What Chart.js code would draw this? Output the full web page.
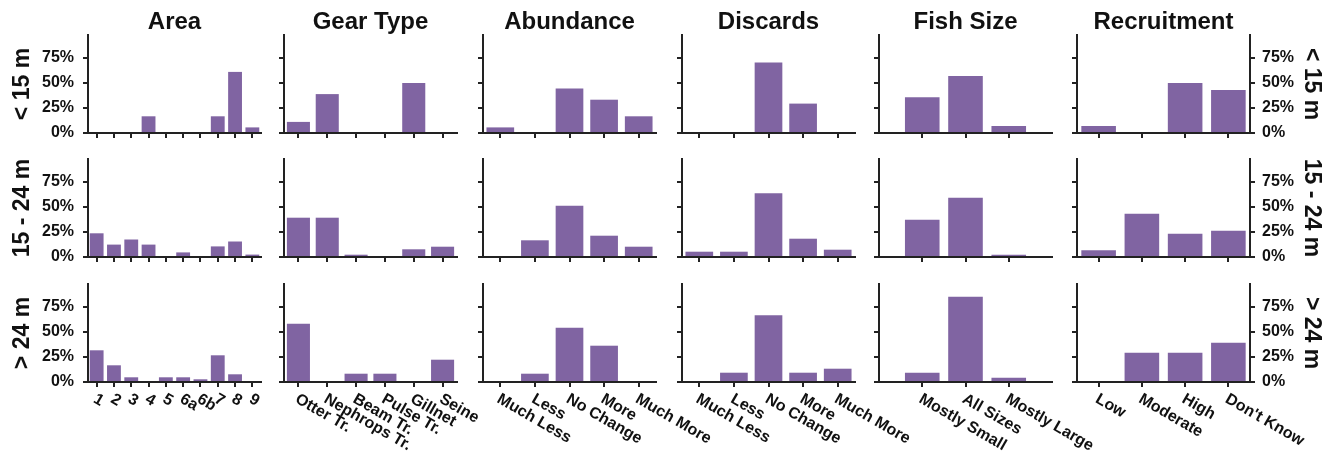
<!DOCTYPE html>
<html lang="en">
<head>
<meta charset="UTF-8">
<title>Survey responses by vessel length</title>
<script src="https://cdn.jsdelivr.net/npm/chart.js@4.4.0/dist/chart.umd.min.js"></script>
<style>
  body { margin: 0; background: #fff; overflow: hidden; font-family: "Liberation Sans", Arial, sans-serif; }
  #wrap { position: relative; width: 1341px; height: 452px; overflow: hidden; }
  .panel { position: absolute; }
  .title { position: absolute; width: 220px; text-align: center; font-weight: bold; font-size: 24px; line-height: 24px; color: #111; }
  .rowlab { position: absolute; font-weight: bold; font-size: 23px; line-height: 23px; white-space: nowrap; color: #111; }
</style>
</head>
<body>
<div id="wrap"></div>
<script>
// categories
const titles = ['Area', 'Gear Type', 'Abundance', 'Discards', 'Fish Size', 'Recruitment'];
const rowLabels = ['< 15 m', '15 - 24 m', '> 24 m'];
const areaLabels = ['1', '2', '3', '4', '5', '6a', '6b', '7', '8', '9'];
const gearLabels = ['Otter Tr.', 'Nephrops Tr.', 'Beam Tr.', 'Pulse Tr.', 'Gillnet', 'Seine'];
const changeLabels = ['Much Less', 'Less', 'No Change', 'More', 'Much More'];
const sizeLabels = ['Mostly Small', 'All Sizes', 'Mostly Large'];
const recruitLabels = ['Low', 'Moderate', 'High', "Don't Know"];
const yTicks = [0, 25, 50, 75];

// percentages, one row per vessel length class
const areaValues = [
  [0, 0, 0, 16.7, 0, 0, 0, 16.7, 61.1, 5.6],
  [23.7, 12.4, 17.5, 12.4, 0, 4.6, 0, 10.6, 15.5, 2.4],
  [31.7, 16.7, 4.7, 0, 4.7, 4.7, 2.7, 26.7, 7.7, 0]
];
const gearValues = [
  [11.1, 38.9, 0, 0, 50, 0],
  [39.3, 39.3, 2.3, 0, 7.7, 10.3],
  [58.3, 0, 8.3, 8.3, 0, 22.3]
];
const abundanceValues = [
  [5.6, 0, 44.4, 33.3, 16.7],
  [0, 16.7, 51.3, 21.3, 10.3],
  [0, 8.3, 54.3, 36.3, 0]
];
const discardValues = [
  [0, 0, 70.6, 29.4, 0],
  [5.3, 5.3, 63.7, 18.3, 7.3],
  [0, 9.3, 66.7, 9.3, 13.3]
];
const sizeValues = [
  [35.7, 57.1, 7.1],
  [37.3, 59.3, 2.3],
  [9.3, 85.3, 4.3]
];
const recruitValues = [
  [7.1, 0, 50, 42.9],
  [6.7, 43.3, 23.3, 26.3],
  [0, 29.3, 29.3, 39.3]
];

// fish size sits on a wider axis with an empty slot each side
const columns = [
  { labels: areaLabels, values: areaValues },
  { labels: gearLabels, values: gearValues },
  { labels: changeLabels, values: abundanceValues },
  { labels: changeLabels, values: discardValues },
  { labels: ['', ...sizeLabels, ''], values: sizeValues.map(v => [null, ...v, null]), noOffset: true },
  { labels: recruitLabels, values: recruitValues }
];

Chart.defaults.font.family = '"Liberation Sans", Arial, sans-serif';
Chart.defaults.color = '#111';

const BAR = '#8064a2';
const AXIS = '#222';
const PADL = 70, PADR = 70, PADT = 24, PADB = 80;
const plotLefts = [88, 284, 483, 682, 879, 1077];
const plotTops = [35, 159, 284];
const plotW = 173, plotH = 98;
const wrap = document.getElementById('wrap');

// slanted x labels, drawn from the category scale's tick positions
const slantLabels = {
  id: 'slantLabels',
  afterDraw(chart, args, opts) {
    if (!opts.show) return;
    const ctx = chart.ctx;
    const xs = chart.scales.x;
    ctx.save();
    ctx.font = 'bold 16px "Liberation Sans", Arial, sans-serif';
    ctx.fillStyle = '#111';
    ctx.textAlign = 'left';
    ctx.textBaseline = 'top';
    xs.getLabels().forEach((lab, i) => {
      if (!lab) return;
      ctx.save();
      ctx.translate(xs.getPixelForTick(i) + 2, chart.chartArea.bottom + 9);
      ctx.rotate(Math.PI / 6);
      ctx.fillText(lab, 0, 0);
      ctx.restore();
    });
    ctx.restore();
  }
};

function yAxis(position, showLabels) {
  return {
    type: 'linear',
    position: position,
    min: 0,
    max: 98,
    z: 1,
    afterBuildTicks: s => { s.ticks = yTicks.map(v => ({ value: v })); },
    ticks: {
      display: showLabels,
      padding: position === 'left' ? 9 : 7,
      color: '#111',
      font: { size: 16, weight: 'bold' },
      callback: v => v + '%'
    },
    grid: { drawOnChartArea: false, drawTicks: true, tickLength: 5, color: AXIS, lineWidth: 2 },
    border: { display: true, color: AXIS, width: 2 },
    afterFit: s => { s.width = position === 'left' ? PADL : PADR; }
  };
}

function makePanel(c, r) {
  const col = columns[c];
  const div = document.createElement('div');
  div.className = 'panel';
  div.style.left = (plotLefts[c] - PADL) + 'px';
  div.style.top = (plotTops[r] - PADT) + 'px';
  div.style.width = (PADL + plotW + PADR) + 'px';
  div.style.height = (PADT + plotH + PADB) + 'px';
  const canvas = document.createElement('canvas');
  div.appendChild(canvas);
  wrap.appendChild(div);

  const last = c === columns.length - 1;
  const scales = {
    x: {
      type: 'category',
      offset: !col.noOffset,
      z: 1,
      ticks: { display: false },
      grid: {
        offset: false,
        drawOnChartArea: false,
        drawTicks: true,
        tickLength: 5,
        lineWidth: 2,
        color: ctx => col.labels[ctx.index] === '' ? 'rgba(0,0,0,0)' : AXIS
      },
      border: { display: true, color: AXIS, width: 2 },
      afterFit: s => { s.height = PADB; }
    },
    y: yAxis('left', c === 0)
  };
  if (last) scales.y2 = yAxis('right', true);

  new Chart(canvas, {
    type: 'bar',
    data: {
      labels: col.labels,
      datasets: [{
        data: col.values[r],
        backgroundColor: BAR,
        borderWidth: 0,
        barPercentage: 0.8,
        categoryPercentage: 1
      }]
    },
    options: {
      responsive: true,
      maintainAspectRatio: false,
      animation: false,
      layout: { padding: { top: PADT, right: last ? 0 : PADR, left: 0, bottom: 0 } },
      scales: scales,
      plugins: {
        legend: { display: false },
        tooltip: { enabled: false },
        slantLabels: { show: r === 2 }
      }
    },
    plugins: [slantLabels]
  });
}

for (let r = 0; r < 3; r++) {
  for (let c = 0; c < columns.length; c++) makePanel(c, r);
}

// column titles
titles.forEach((t, c) => {
  const d = document.createElement('div');
  d.className = 'title';
  d.textContent = t;
  d.style.left = (plotLefts[c] + plotW / 2 - 110) + 'px';
  d.style.top = '9px';
  wrap.appendChild(d);
});

// row labels, left reading up, right reading down
rowLabels.forEach((t, r) => {
  const cy = plotTops[r] + plotH / 2;
  [[21, -90], [1312, 90]].forEach(([cx, deg]) => {
    const d = document.createElement('div');
    d.className = 'rowlab';
    d.textContent = t;
    d.style.left = cx + 'px';
    d.style.top = cy + 'px';
    d.style.transform = 'translate(-50%, -50%) rotate(' + deg + 'deg)';
    wrap.appendChild(d);
  });
});
</script>
</body>
</html>
